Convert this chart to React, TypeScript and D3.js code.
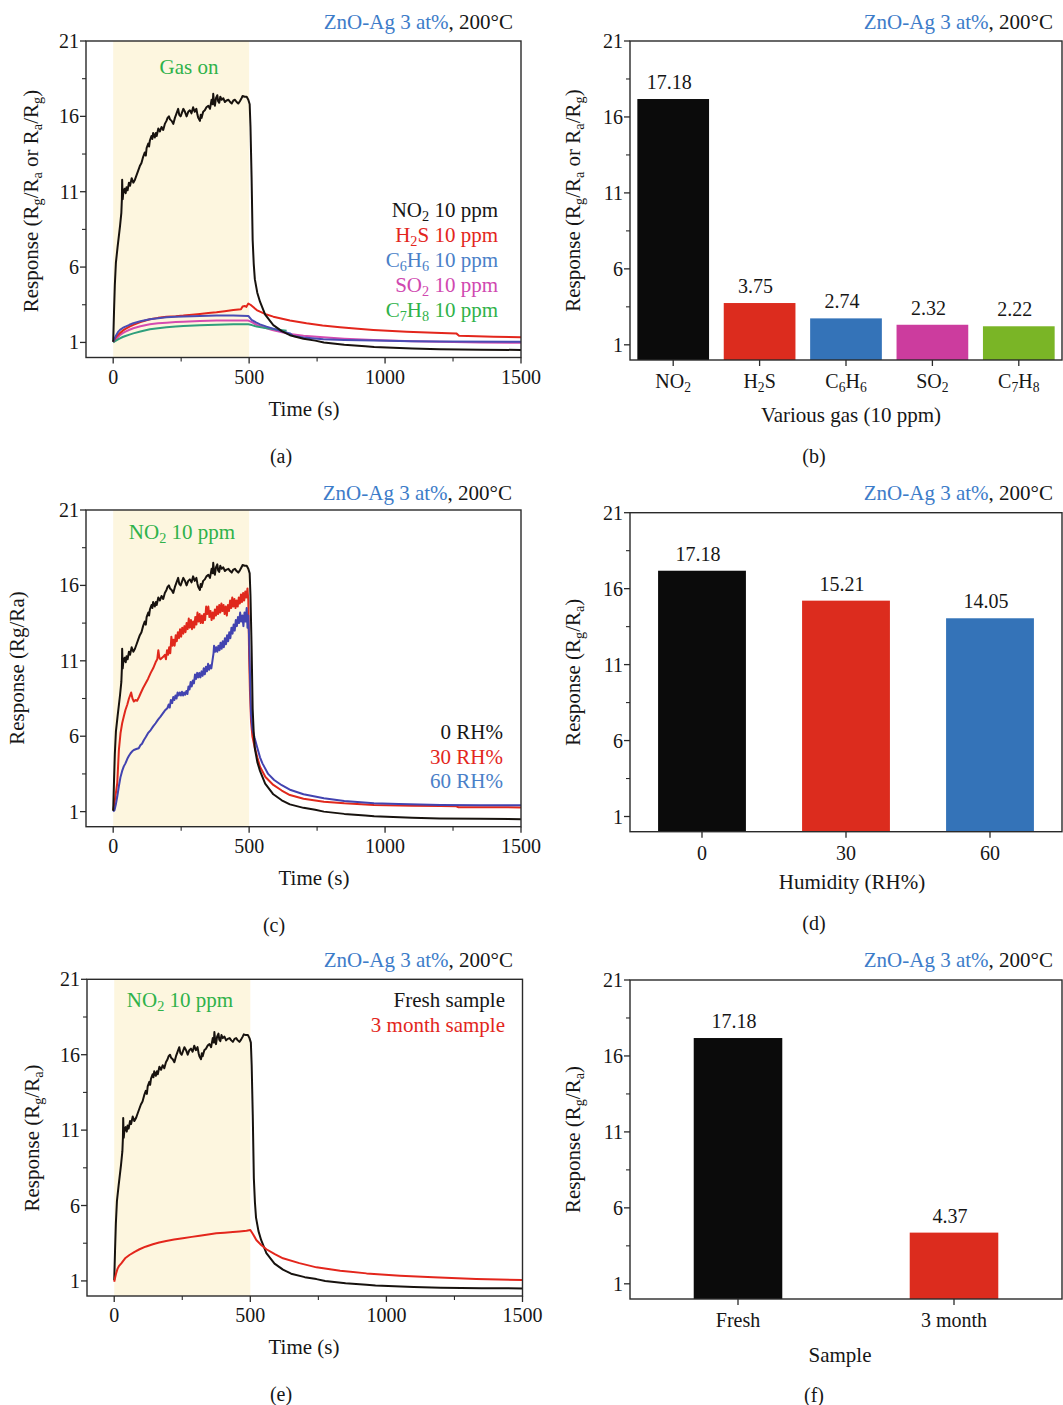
import * as d3 from 'd3';
import React from 'react';

type Pt = [number, number];

// ticks shared by all six panels
const yTicks = [1, 6, 11, 16, 21];
const yMinor = [3.5, 8.5, 13.5, 18.5];
const timeTicks = [0, 500, 1000, 1500];
const timeMinor = [250, 750, 1250];

// (b) selectivity, 10 ppm
const gases = ['NO_2', 'H_2S', 'C_6H_6', 'SO_2', 'C_7H_8'];
const gasResponse = [17.18, 3.75, 2.74, 2.32, 2.22];
const gasColors = ['#0b0b0b', '#dc2c1e', '#3473b8', '#cc3c9e', '#7ab526'];

// (d) humidity
const humidity = ['0', '30', '60'];
const humidityResponse = [17.18, 15.21, 14.05];
const humidityColors = ['#0b0b0b', '#dc2c1e', '#3473b8'];

// (f) stability
const samples = ['Fresh', '3 month'];
const sampleResponse = [17.18, 4.37];
const sampleColors = ['#0b0b0b', '#dc2c1e'];

// transients [time s, response]
const no2Fresh: Pt[] = [
  [0, 1.05], [3, 3.0], [6, 4.8], [10, 6.3], [16, 7.3], [25, 8.7], [30, 9.6], [32, 10.5], [33, 11.8],
  [35, 10.5], [37, 10.9], [42, 11.2], [46, 10.9], [49, 11.3], [53, 11.1], [58, 11.6], [62, 11.4],
  [68, 11.9], [74, 11.6], [80, 11.8], [86, 12.1], [92, 12.4], [98, 12.7], [104, 12.9], [110, 13.3],
  [116, 13.6], [120, 13.4], [123, 13.9], [129, 14.2], [132, 14.0], [135, 14.4], [141, 14.7],
  [144, 14.5], [147, 14.9], [153, 14.6], [157, 14.9], [160, 14.7], [166, 15.2], [172, 15.0],
  [178, 15.3], [184, 15.1], [190, 15.5], [196, 15.7], [200, 15.9], [205, 16.0], [209, 15.8],
  [215, 15.7], [221, 15.5], [227, 15.9], [233, 16.2], [239, 16.5], [243, 16.1], [248, 16.0],
  [252, 16.2], [258, 16.5], [264, 16.3], [270, 16.0], [276, 16.3], [282, 16.4], [288, 16.2],
  [294, 16.6], [300, 16.3], [306, 16.5], [310, 16.1], [313, 15.9], [319, 15.7], [322, 16.1],
  [325, 15.9], [331, 16.3], [337, 16.4], [343, 16.6], [350, 16.7], [356, 16.5], [360, 16.9],
  [362, 17.1], [366, 16.8], [368, 17.5], [371, 16.9], [374, 16.7], [378, 17.2], [383, 17.4],
  [386, 17.0], [390, 16.9], [394, 17.3], [399, 17.1], [405, 17.2], [411, 16.95], [417, 17.05],
  [424, 17.1], [430, 16.95], [436, 16.85], [442, 17.05], [448, 17.1], [454, 16.95], [460, 16.85],
  [466, 17.0], [472, 17.2], [476, 17.35], [484, 17.3], [491, 17.3], [497, 17.1], [502, 16.8],
  [505, 15.3], [509, 12.0], [513, 7.8], [517, 6.2], [521, 5.2], [530, 4.3], [540, 3.7],
  [559, 2.85], [589, 2.15], [620, 1.75], [650, 1.48], [700, 1.25], [743, 1.12], [775, 1.0],
  [850, 0.85], [927, 0.75], [960, 0.7], [1100, 0.6], [1200, 0.55], [1350, 0.52], [1500, 0.5],
];

const h2s: Pt[] = [
  [0, 1.05], [5, 1.2], [10, 1.35], [18, 1.5], [25, 1.62], [35, 1.78], [45, 1.9], [60, 2.05],
  [74, 2.16], [100, 2.35], [135, 2.54], [165, 2.63], [196, 2.71], [230, 2.74], [258, 2.78],
  [290, 2.84], [319, 2.89], [350, 2.95], [380, 3.0], [410, 3.07], [442, 3.15], [470, 3.2],
  [476, 3.38], [484, 3.42], [490, 3.36], [497, 3.58], [505, 3.5], [515, 3.35], [528, 3.15],
  [540, 3.04], [564, 2.85], [589, 2.71], [650, 2.45], [711, 2.27], [770, 2.12], [834, 2.0],
  [900, 1.9], [957, 1.83], [1079, 1.71], [1180, 1.64], [1262, 1.6], [1272, 1.45], [1400, 1.38],
  [1500, 1.34],
];

const c6h6: Pt[] = [
  [0, 1.05], [5, 1.25], [10, 1.45], [18, 1.7], [25, 1.83], [35, 1.96], [45, 2.05], [60, 2.17],
  [74, 2.27], [100, 2.4], [135, 2.54], [165, 2.61], [196, 2.67], [230, 2.7], [258, 2.72],
  [290, 2.74], [319, 2.75], [350, 2.77], [380, 2.78], [442, 2.79], [497, 2.76], [509, 2.5],
  [525, 2.33], [540, 2.2], [564, 2.05], [600, 1.85], [626, 1.71], [650, 1.6], [662, 1.42],
  [700, 1.32], [773, 1.21], [850, 1.16], [957, 1.12], [1100, 1.08], [1202, 1.06], [1500, 1.05],
];

const so2: Pt[] = [
  [0, 1.0], [5, 1.1], [10, 1.2], [18, 1.36], [25, 1.49], [35, 1.62], [45, 1.72], [60, 1.84],
  [74, 1.94], [100, 2.07], [135, 2.2], [165, 2.27], [196, 2.31], [230, 2.35], [258, 2.38],
  [319, 2.42], [380, 2.45], [442, 2.46], [497, 2.45], [510, 2.35], [528, 2.16], [564, 1.94],
  [589, 1.8], [650, 1.56], [700, 1.45], [773, 1.34], [850, 1.25], [957, 1.16], [1100, 1.08],
  [1202, 1.04], [1350, 1.0], [1500, 0.98],
];

const c7h8: Pt[] = [
  [0, 1.0], [5, 1.06], [10, 1.12], [18, 1.2], [25, 1.27], [35, 1.36], [45, 1.43], [60, 1.52],
  [74, 1.6], [100, 1.72], [135, 1.87], [165, 1.94], [196, 2.0], [230, 2.05], [258, 2.09],
  [319, 2.14], [380, 2.18], [442, 2.2], [497, 2.2], [510, 2.15], [528, 2.05], [560, 1.95],
  [600, 1.86], [638, 1.78],
];

const rh30: Pt[] = [
  [0, 1.1], [4, 1.5], [8, 2.0], [12, 2.5], [15, 2.9], [18, 4.0], [21, 5.1], [27, 6.2], [33, 6.86],
  [39, 7.3], [45, 7.74], [52, 8.1], [58, 8.5], [62, 8.7], [66, 8.9], [71, 8.5], [76, 8.3],
  [82, 8.4], [88, 8.35], [95, 8.6], [101, 8.85], [110, 9.2], [119, 9.5], [128, 9.8], [138, 10.2],
  [147, 10.5], [156, 10.9], [162, 11.1], [166, 11.7], [170, 11.2], [174, 11.1], [180, 11.2],
  [186, 11.3], [190, 11.4], [194, 11.1], [198, 11.7], [202, 11.4], [206, 11.9], [210, 11.5],
  [214, 12.6], [218, 12.0], [222, 12.4], [226, 12.0], [230, 12.7], [234, 12.3], [238, 12.9],
  [242, 12.5], [246, 13.1], [250, 12.6], [254, 13.2], [258, 12.8], [262, 13.3], [266, 12.9],
  [270, 13.5], [274, 13.1], [278, 13.8], [282, 13.2], [286, 13.7], [290, 13.1], [294, 13.6],
  [298, 13.2], [302, 13.9], [306, 13.4], [310, 14.2], [314, 13.6], [318, 14.1], [322, 13.5],
  [326, 14.0], [330, 13.5], [334, 14.1], [338, 13.7], [342, 14.6], [346, 14.1], [350, 14.6],
  [354, 13.9], [358, 14.3], [362, 13.7], [366, 14.2], [370, 13.8], [374, 14.4], [378, 14.0],
  [382, 14.6], [386, 14.1], [390, 14.7], [394, 14.2], [398, 14.8], [402, 14.3], [406, 14.7],
  [410, 14.1], [414, 14.6], [418, 14.0], [422, 14.7], [426, 14.3], [430, 15.0], [434, 14.5],
  [438, 15.2], [442, 14.6], [446, 15.1], [450, 14.5], [454, 15.0], [458, 14.6], [462, 15.2],
  [466, 14.8], [470, 15.4], [474, 14.9], [478, 15.5], [482, 15.0], [486, 15.6], [490, 15.2],
  [494, 15.8], [497, 15.0], [500, 11.3], [503, 9.0], [507, 7.0], [512, 6.0], [520, 5.3],
  [530, 4.6], [540, 3.98], [560, 3.3], [589, 2.77], [620, 2.4], [650, 2.1], [700, 1.85],
  [775, 1.66], [850, 1.55], [959, 1.44], [1100, 1.39], [1204, 1.37], [1262, 1.35], [1270, 1.29],
  [1500, 1.28],
];

const rh60: Pt[] = [
  [0, 1.0], [5, 1.1], [10, 1.5], [15, 2.0], [21, 2.7], [27, 3.3], [33, 3.7], [39, 4.0], [45, 4.2],
  [52, 4.5], [58, 4.7], [64, 4.87], [70, 5.0], [76, 5.09], [85, 5.15], [94, 5.2], [100, 5.4],
  [106, 5.5], [113, 5.75], [120, 5.95], [128, 6.2], [138, 6.41], [147, 6.65], [156, 6.86],
  [165, 7.1], [174, 7.3], [182, 7.5], [190, 7.7], [199, 7.85], [204, 8.1], [208, 7.9], [212, 8.4],
  [217, 8.2], [221, 8.6], [225, 8.4], [229, 8.7], [233, 8.5], [237, 8.9], [241, 8.7], [245, 8.9],
  [249, 8.7], [253, 8.95], [257, 8.7], [261, 8.9], [265, 8.75], [269, 9.0], [273, 8.8], [277, 9.3],
  [281, 9.1], [285, 9.6], [289, 9.3], [293, 9.7], [297, 9.5], [301, 10.1], [305, 9.8], [309, 10.2],
  [313, 9.9], [317, 10.2], [321, 9.9], [325, 10.3], [329, 10.0], [333, 10.5], [337, 10.1],
  [341, 10.6], [345, 10.3], [349, 10.8], [353, 10.4], [357, 10.7], [361, 10.5], [365, 11.0],
  [369, 11.5], [371, 12.0], [375, 11.6], [379, 11.9], [383, 11.6], [387, 12.0], [391, 11.7],
  [395, 12.2], [399, 11.8], [403, 12.3], [407, 11.9], [411, 12.5], [415, 12.1], [419, 12.7],
  [423, 12.3], [427, 12.9], [431, 12.5], [435, 13.2], [439, 12.8], [443, 13.4], [447, 13.0],
  [451, 13.7], [455, 13.3], [459, 13.9], [463, 13.5], [467, 14.2], [471, 13.6], [475, 14.0],
  [479, 13.3], [483, 14.2], [487, 13.6], [491, 14.5], [494, 13.2], [497, 14.0], [500, 12.5],
  [503, 10.2], [507, 7.5], [512, 6.5], [520, 5.9], [529, 5.3], [540, 4.6], [549, 4.2],
  [570, 3.5], [592, 3.1], [620, 2.75], [653, 2.43], [700, 2.15], [775, 1.88], [850, 1.7],
  [959, 1.55], [1050, 1.5], [1204, 1.44], [1350, 1.43], [1500, 1.42],
];

const month3: Pt[] = [
  [0, 0.95], [3, 1.2], [7, 1.5], [12, 1.8], [18, 2.0], [26, 2.17], [40, 2.5], [56, 2.72],
  [75, 2.93], [93, 3.1], [115, 3.27], [142, 3.43], [165, 3.55], [191, 3.65], [220, 3.74],
  [252, 3.83], [285, 3.92], [314, 4.0], [345, 4.08], [375, 4.16], [405, 4.2], [436, 4.24],
  [460, 4.28], [486, 4.33], [500, 4.38], [510, 4.1], [522, 3.71], [540, 3.38], [559, 3.1],
  [590, 2.78], [620, 2.5], [680, 2.18], [743, 1.9], [830, 1.68], [927, 1.5], [1050, 1.35],
  [1172, 1.24], [1330, 1.13], [1500, 1.06],
];

const FONT = "'Liberation Serif', 'Times New Roman', serif";
const INK = '#161616';
const AXIS = '#2a2a2a';
const HEAD_BLUE = '#3d7cc9';
const SHADE = '#fdf6df';
const GREEN_TXT = '#2fb24a';
const TXT = 21;
const TICK = 20;

type Frame = { l: number; r: number; t: number; b: number };
type Series = { data: Pt[]; color: string; w?: number };
type LegendItem = { text: string; color: string };

// "_x" marks a one-character subscript
function rich(s: string, size: number) {
  const shift = Math.floor(size * 0.2);
  const parts = s.split(/(_\w)/).filter((p) => p !== '');
  let down = false;
  return parts.map((p, i) => {
    if (p.startsWith('_')) {
      const el = (
        <tspan key={i} dy={down ? 0 : shift} fontSize={size * 0.68}>
          {p.slice(1)}
        </tspan>
      );
      down = true;
      return el;
    }
    const el = (
      <tspan key={i} dy={down ? -shift : 0}>
        {p}
      </tspan>
    );
    down = false;
    return el;
  });
}

const Header = ({ x, y }: { x: number; y: number }) => (
  <text x={x} y={y} textAnchor="end" fontSize={TXT}>
    <tspan fill={HEAD_BLUE}>ZnO-Ag 3 at%</tspan>
    <tspan fill={INK}>, 200°C</tspan>
  </text>
);

const YLabel = ({ text, x, y }: { text: string; x: number; y: number }) => (
  <text transform={`translate(${x},${y}) rotate(-90)`} textAnchor="middle" fontSize={TXT}>
    {rich(text, TXT)}
  </text>
);

function Box({ f, y }: { f: Frame; y: d3.ScaleLinear<number, number> }) {
  return (
    <g>
      <rect x={f.l} y={f.t} width={f.r - f.l} height={f.b - f.t} fill="none" stroke={AXIS} strokeWidth={1.4} />
      {yTicks.map((v) => (
        <g key={v}>
          <line x1={f.l - 6} x2={f.l} y1={y(v)} y2={y(v)} stroke={AXIS} strokeWidth={1.3} />
          <text x={f.l - 7} y={y(v) + 7} textAnchor="end" fontSize={TICK}>
            {v}
          </text>
        </g>
      ))}
      {yMinor.map((v) => (
        <line key={v} x1={f.l - 4} x2={f.l} y1={y(v)} y2={y(v)} stroke={AXIS} strokeWidth={1.1} />
      ))}
    </g>
  );
}

type LineProps = {
  f: Frame;
  series: Series[];
  shadeText: string;
  shadeX: number;
  shadeY: number;
  legend: LegendItem[];
  legendX: number;
  legendY: number;
  legendGap: number;
  yLabel: string;
  yLabelX: number;
  yLabelY: number;
  titleX: number;
  letter: string;
  letterX: number;
  headerX: number;
  headerY: number;
};

function LinePanel(p: LineProps) {
  const { f } = p;
  const x = d3.scaleLinear().domain([-100, 1500]).range([f.l, f.r]);
  const y = d3.scaleLinear().domain([0, 21]).range([f.b, f.t]);
  const line = d3
    .line<Pt>()
    .x((d) => x(d[0]))
    .y((d) => y(d[1]));
  return (
    <g>
      <rect x={x(0)} y={f.t} width={x(500) - x(0)} height={f.b - f.t} fill={SHADE} />
      <text x={p.shadeX} y={p.shadeY} textAnchor="middle" fontSize={TXT} fill={GREEN_TXT}>
        {rich(p.shadeText, TXT)}
      </text>
      {p.series.map((s, i) => (
        <path
          key={i}
          d={line(s.data) ?? ''}
          fill="none"
          stroke={s.color}
          strokeWidth={s.w ?? 2}
          strokeLinejoin="round"
        />
      ))}
      <Box f={f} y={y} />
      {timeTicks.map((v) => (
        <g key={v}>
          <line x1={x(v)} x2={x(v)} y1={f.b} y2={f.b + 6} stroke={AXIS} strokeWidth={1.3} />
          <text x={x(v)} y={f.b + 26} textAnchor="middle" fontSize={TICK}>
            {v}
          </text>
        </g>
      ))}
      {timeMinor.map((v) => (
        <line key={v} x1={x(v)} x2={x(v)} y1={f.b} y2={f.b + 4} stroke={AXIS} strokeWidth={1.1} />
      ))}
      {p.legend.map((l, i) => (
        <text key={i} x={p.legendX} y={p.legendY + i * p.legendGap} textAnchor="end" fontSize={TXT} fill={l.color}>
          {rich(l.text, TXT)}
        </text>
      ))}
      <text x={p.titleX} y={f.b + 58} textAnchor="middle" fontSize={TXT}>
        Time (s)
      </text>
      <YLabel text={p.yLabel} x={p.yLabelX} y={p.yLabelY} />
      <text x={p.letterX} y={f.b + 105} textAnchor="middle" fontSize={TICK}>
        {p.letter}
      </text>
      <Header x={p.headerX} y={p.headerY} />
    </g>
  );
}

type BarProps = {
  f: Frame;
  cats: string[];
  values: number[];
  colors: string[];
  pad: number;
  yLabel: string;
  title: string;
  titleX: number;
  titleDy: number;
  letter: string;
  letterDy: number;
  headerY: number;
};

function BarPanel(p: BarProps) {
  const { f } = p;
  const x = d3
    .scaleBand<string>()
    .domain(p.cats)
    .range([f.l, f.r])
    .paddingInner(p.pad)
    .paddingOuter(p.pad / 2);
  const y = d3.scaleLinear().domain([0, 21]).range([f.b, f.t]);
  const bw = x.bandwidth();
  return (
    <g>
      {p.cats.map((c, i) => (
        <g key={c}>
          <rect x={x(c)!} y={y(p.values[i])} width={bw} height={y(0) - y(p.values[i])} fill={p.colors[i]} />
          <text x={x(c)! + bw / 2 - 4} y={y(p.values[i]) - 10} textAnchor="middle" fontSize={TICK}>
            {p.values[i].toFixed(2)}
          </text>
          <line x1={x(c)! + bw / 2} x2={x(c)! + bw / 2} y1={f.b} y2={f.b + 6} stroke={AXIS} strokeWidth={1.3} />
          <text x={x(c)! + bw / 2} y={f.b + 28} textAnchor="middle" fontSize={TICK}>
            {rich(c, TICK)}
          </text>
        </g>
      ))}
      <Box f={f} y={y} />
      <text x={p.titleX} y={f.b + p.titleDy} textAnchor="middle" fontSize={TXT}>
        {p.title}
      </text>
      <YLabel text={p.yLabel} x={580} y={(f.t + f.b) / 2} />
      <text x={814} y={f.b + p.letterDy} textAnchor="middle" fontSize={TICK}>
        {p.letter}
      </text>
      <Header x={1053} y={p.headerY} />
    </g>
  );
}

export default function App() {
  return (
    <svg
      width={1063}
      height={1405}
      style={{ position: 'absolute', left: 0, top: 0, background: '#fff' }}
      fontFamily={FONT}
      fill={INK}
    >
      <LinePanel
        f={{ l: 86, r: 521, t: 41, b: 357.5 }}
        series={[
          { data: so2, color: '#d54bb0' },
          { data: c7h8, color: '#2f9f7c' },
          { data: h2s, color: '#e3261c' },
          { data: c6h6, color: '#4a4cb4' },
          { data: no2Fresh, color: '#17120e' },
        ]}
        shadeText="Gas on"
        shadeX={189}
        shadeY={74}
        legend={[
          { text: 'NO_2 10 ppm', color: INK },
          { text: 'H_2S 10 ppm', color: '#e3261c' },
          { text: 'C_6H_6 10 ppm', color: '#4a80c8' },
          { text: 'SO_2 10 ppm', color: '#d048b0' },
          { text: 'C_7H_8 10 ppm', color: GREEN_TXT },
        ]}
        legendX={498}
        legendY={217}
        legendGap={25}
        yLabel="Response (R_g/R_a or R_a/R_g)"
        yLabelX={38}
        yLabelY={201}
        titleX={304}
        letter="(a)"
        letterX={281}
        headerX={513}
        headerY={29}
      />
      <BarPanel
        f={{ l: 630, r: 1062, t: 41, b: 360 }}
        cats={gases}
        values={gasResponse}
        colors={gasColors}
        pad={0.17}
        yLabel="Response (R_g/R_a or R_a/R_g)"
        title="Various gas (10 ppm)"
        titleX={851}
        titleDy={62}
        letter="(b)"
        letterDy={103}
        headerY={29}
      />
      <LinePanel
        f={{ l: 86, r: 521, t: 510, b: 826.7 }}
        series={[
          { data: rh30, color: '#e0281c' },
          { data: rh60, color: '#4243b0' },
          { data: no2Fresh, color: '#17120e' },
        ]}
        shadeText="NO_2 10 ppm"
        shadeX={182}
        shadeY={539}
        legend={[
          { text: '0 RH%', color: INK },
          { text: '30 RH%', color: '#e3261c' },
          { text: '60 RH%', color: '#4a80c8' },
        ]}
        legendX={503}
        legendY={739}
        legendGap={24.7}
        yLabel="Response (Rg/Ra)"
        yLabelX={24}
        yLabelY={668}
        titleX={314}
        letter="(c)"
        letterX={274}
        headerX={512}
        headerY={500}
      />
      <BarPanel
        f={{ l: 630, r: 1062, t: 512.7, b: 831.7 }}
        cats={humidity}
        values={humidityResponse}
        colors={humidityColors}
        pad={0.39}
        yLabel="Response (R_g/R_a)"
        title="Humidity (RH%)"
        titleX={852}
        titleDy={57}
        letter="(d)"
        letterDy={98}
        headerY={500}
      />
      <LinePanel
        f={{ l: 87, r: 522.5, t: 979.3, b: 1296 }}
        series={[
          { data: no2Fresh, color: '#17120e' },
          { data: month3, color: '#e3261c' },
        ]}
        shadeText="NO_2 10 ppm"
        shadeX={180}
        shadeY={1007}
        legend={[
          { text: 'Fresh sample', color: INK },
          { text: '3 month sample', color: '#e3261c' },
        ]}
        legendX={505}
        legendY={1007}
        legendGap={25}
        yLabel="Response (R_g/R_a)"
        yLabelX={39}
        yLabelY={1138}
        titleX={304}
        letter="(e)"
        letterX={281}
        headerX={513}
        headerY={967}
      />
      <BarPanel
        f={{ l: 630, r: 1062, t: 980, b: 1299 }}
        cats={samples}
        values={sampleResponse}
        colors={sampleColors}
        pad={0.59}
        yLabel="Response (R_g/R_a)"
        title="Sample"
        titleX={840}
        titleDy={63}
        letter="(f)"
        letterDy={103}
        headerY={967}
      />
    </svg>
  );
}
